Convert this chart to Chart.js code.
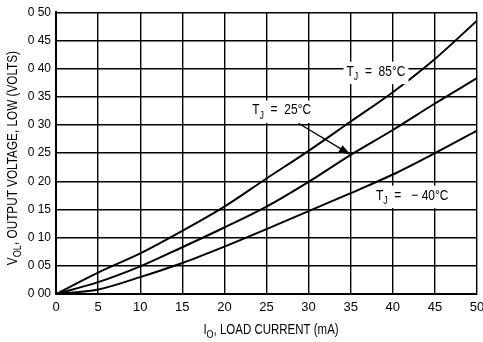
<!DOCTYPE html>
<html>
<head>
<meta charset="utf-8">
<script src="https://cdn.jsdelivr.net/npm/chart.js@4/dist/chart.umd.min.js"></script>
<style>
  html, body { margin: 0; padding: 0; background: #fff; }
  #wrap { width: 483px; height: 342px; position: relative; }
</style>
</head>
<body>
<div id="wrap"><canvas id="chart"></canvas></div>
<script>
// load current (mA) and output voltage low (V)
const currentMA = [0, 5, 10, 15, 20, 25, 30, 35, 40, 45, 50];
const vol85 = [0, 0.038, 0.072, 0.112, 0.155, 0.205, 0.254, 0.306, 0.358, 0.417, 0.485];
const vol25 = [0, 0.021, 0.049, 0.083, 0.118, 0.155, 0.199, 0.247, 0.291, 0.338, 0.383];
const volM40 = [0, 0.008, 0.030, 0.055, 0.084, 0.115, 0.147, 0.179, 0.212, 0.250, 0.290];
const yTickLabels = ['0 00', '0 05', '0 10', '0 15', '0 20', '0 25', '0 30', '0 35', '0 40', '0 45', '0 50'];

const FONT = '"Liberation Sans", Arial, sans-serif';

function toPoints(ys) {
    return currentMA.map((x, i) => ({ x: x, y: ys[i] }));
}

function curve(ys) {
    return {
        data: toPoints(ys),
        borderColor: '#000',
        borderWidth: 2,
        pointRadius: 0,
        fill: false,
        cubicInterpolationMode: 'monotone'
    };
}

// draws text with subscript parts, centered on x,y, squeezed horizontally
function richText(ctx, parts, x, y, size, bg, squeeze) {
    ctx.save();
    ctx.translate(x, y);
    let total = 0;
    const widths = parts.map(p => {
        ctx.font = (p.sub ? Math.round(size * 0.75) : size) + 'px ' + FONT;
        const w = ctx.measureText(p.t).width;
        total += w;
        return w;
    });
    if (bg) {
        ctx.fillStyle = '#fff';
        ctx.fillRect(-total * squeeze / 2 - 3, -size * 0.65, total * squeeze + 6, size * 1.5);
    }
    ctx.scale(squeeze, 1);
    let cx = -total / 2;
    ctx.fillStyle = '#000';
    ctx.textBaseline = 'middle';
    ctx.textAlign = 'left';
    parts.forEach((p, i) => {
        ctx.font = (p.sub ? Math.round(size * 0.75) : size) + 'px ' + FONT;
        ctx.fillText(p.t, cx, p.sub ? size * 0.35 : 0);
        cx += widths[i];
    });
    ctx.restore();
}

const labelsPlugin = {
    id: 'labels',
    afterDraw(chart) {
        const ctx = chart.ctx;
        const xs = chart.scales.x;
        const ys = chart.scales.y;
        const area = chart.chartArea;
        ctx.save();

        // curve labels
        richText(ctx, [{ t: 'T' }, { t: 'J', sub: true }, { t: '  =  85°C' }],
            xs.getPixelForValue(38.0), ys.getPixelForValue(0.395), 15, true, 0.8);
        richText(ctx, [{ t: 'T' }, { t: 'J', sub: true }, { t: '  =  25°C' }],
            xs.getPixelForValue(26.8), ys.getPixelForValue(0.326), 15, true, 0.8);
        richText(ctx, [{ t: 'T' }, { t: 'J', sub: true }, { t: '  =   \u2212 40°C' }],
            xs.getPixelForValue(42.3), ys.getPixelForValue(0.175), 15, true, 0.8);

        // arrow to 25C curve
        const x1 = xs.getPixelForValue(28.8), y1 = ys.getPixelForValue(0.303);
        const x2 = xs.getPixelForValue(35), y2 = ys.getPixelForValue(0.247);
        const ang = Math.atan2(y2 - y1, x2 - x1);
        ctx.strokeStyle = '#000';
        ctx.lineWidth = 1.3;
        ctx.beginPath();
        ctx.moveTo(x1, y1);
        ctx.lineTo(x2 - 8 * Math.cos(ang), y2 - 8 * Math.sin(ang));
        ctx.stroke();
        ctx.beginPath();
        ctx.moveTo(x2, y2);
        ctx.lineTo(x2 - 12 * Math.cos(ang) + 4 * Math.sin(ang), y2 - 12 * Math.sin(ang) - 4 * Math.cos(ang));
        ctx.lineTo(x2 - 12 * Math.cos(ang) - 4 * Math.sin(ang), y2 - 12 * Math.sin(ang) + 4 * Math.cos(ang));
        ctx.closePath();
        ctx.fillStyle = '#000';
        ctx.fill();

        // axis titles
        richText(ctx, [{ t: 'I' }, { t: 'O', sub: true }, { t: ', LOAD CURRENT (mA)' }],
            271, 330, 14, false, 0.82);
        ctx.translate(13, (area.top + area.bottom) / 2 + 5);
        ctx.rotate(-Math.PI / 2);
        richText(ctx, [{ t: 'V' }, { t: 'OL', sub: true }, { t: ', OUTPUT VOLTAGE, LOW (VOLTS)' }],
            0, 0, 14, false, 0.84);
        ctx.restore();
    }
};

new Chart(document.getElementById('chart'), {
    type: 'line',
    data: {
        datasets: [curve(vol85), curve(vol25), curve(volM40)]
    },
    options: {
        responsive: true,
        maintainAspectRatio: false,
        animation: false,
        layout: { padding: { left: 0, right: 6, top: 12, bottom: 0 } },
        plugins: {
            legend: { display: false },
            tooltip: { enabled: false }
        },
        scales: {
            x: {
                type: 'linear',
                min: 0,
                max: 50,
                afterFit(scale) {
                    scale.height = 48;
                    scale.paddingRight = 0;
                    scale.paddingLeft = 0;
                },
                ticks: {
                    stepSize: 5,
                    color: '#000',
                    padding: 6,
                    maxRotation: 0,
                    font: { family: FONT, size: 13 }
                },
                grid: { color: '#000', lineWidth: 1.4, drawTicks: false },
                border: { color: '#000', width: 2 }
            },
            y: {
                min: 0,
                max: 0.5,
                afterFit(scale) { scale.width = 56; },
                ticks: {
                    stepSize: 0.05,
                    color: '#000',
                    padding: 5,
                    font: { family: FONT, size: 12 },
                    callback: (v, i) => yTickLabels[i]
                },
                grid: { color: '#000', lineWidth: 1.4, drawTicks: false },
                border: { color: '#000', width: 2 }
            }
        }
    },
    plugins: [labelsPlugin]
});
</script>
</body>
</html>
